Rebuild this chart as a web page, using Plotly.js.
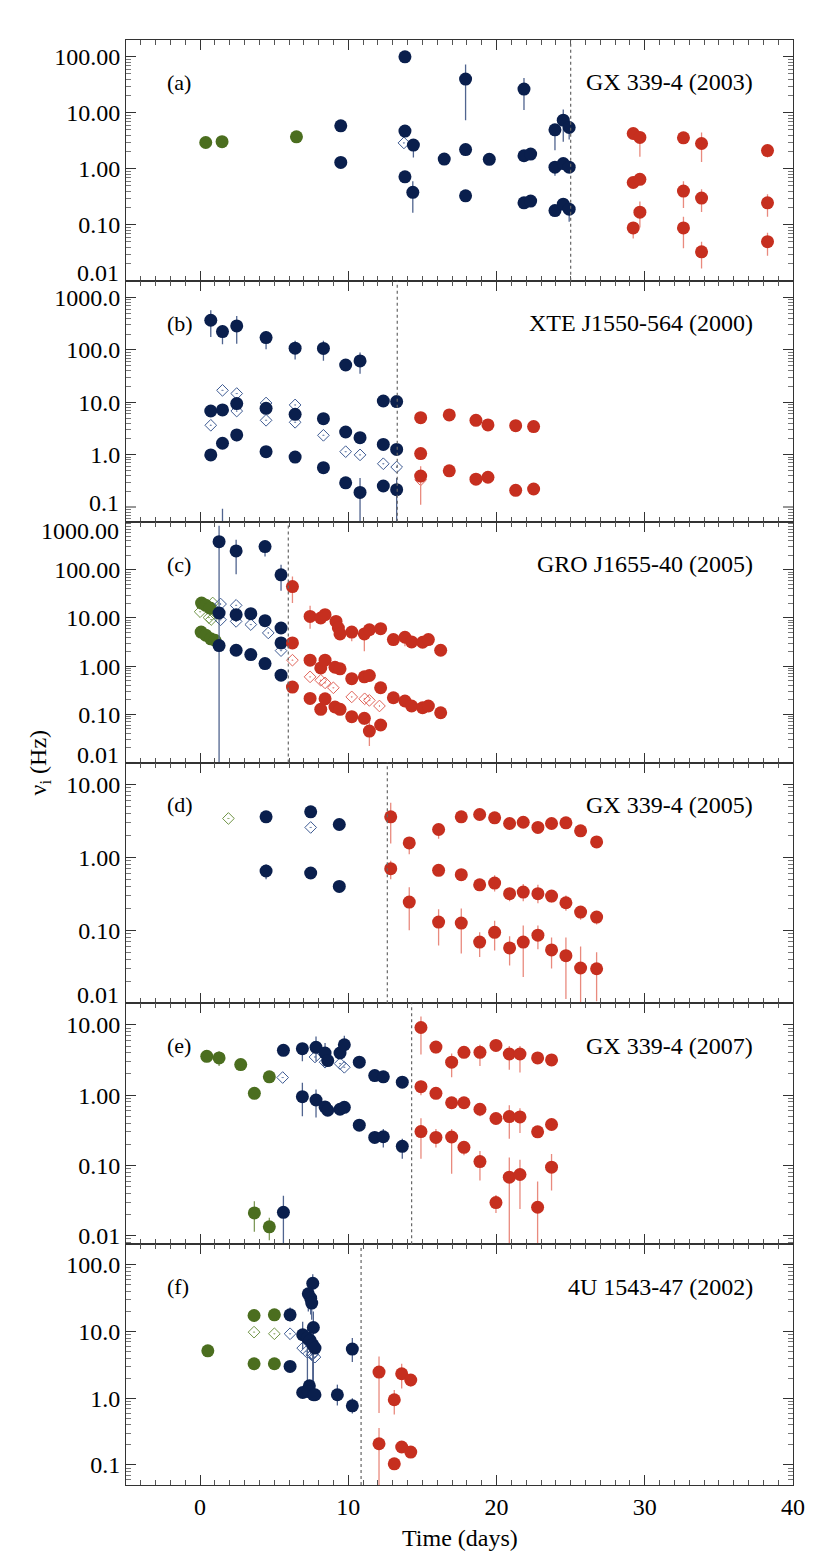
<!DOCTYPE html>
<html>
<head>
<meta charset="utf-8">
<script src="https://cdn.plot.ly/plotly-3.0.1.min.js"></script>
<style>
body{margin:0;background:#fff}
#plot{width:830px;height:1566px}
</style>
</head>
<body>
<div id="plot"></div>
<script>
// rows are [time (days), nu (Hz), lower bound, upper bound]; bounds only where a bar shows

// (a) GX 339-4 (2003)
var aGreen = [[0.38,2.95],[1.48,3.05],[6.50,3.73]]
var aBlue = [
  [9.49,5.86],[9.49,1.30],
  [13.82,100],[13.82,4.71],[13.82,0.72],
  [14.39,2.65,1.6,3.3],[14.35,0.38,0.164,0.6],
  [16.47,1.49],
  [17.91,40,7.4,73],[17.91,2.21],[17.91,0.33],
  [19.51,1.48,1.3,1.6],
  [21.85,26.5,11.2,42],[21.85,1.71],[21.85,0.247],
  [22.3,1.83,1.5,2.2],[22.3,0.265],
  [23.94,4.97,2.15,6.2],[23.94,1.07,0.75,1.3],[23.94,0.18],
  [24.5,7.4,3.03,11.5],[24.5,1.24],[24.5,0.234],
  [24.9,5.47,3.34,6.5],[24.9,1.07],[24.9,0.19,0.113,0.24]
]
var aBlueOpen = [[13.75,2.9]]
var aRed = [
  [29.22,4.27],[29.67,3.63,1.64,4.6],[32.61,3.58,3.0,4.0],[33.83,2.83,1.33,4.46],[38.28,2.12,1.6,2.6],
  [29.22,0.57],[29.67,0.65],[32.61,0.40,0.20,0.6],[33.83,0.30,0.17,0.43],[38.28,0.247,0.139,0.35],
  [29.67,0.168,0.09,0.26],[29.22,0.088,0.057,0.11],[32.61,0.088,0.038,0.14],[33.83,0.033,0.0166,0.05],[38.28,0.05,0.028,0.072]
]

// (b) XTE J1550-564 (2000)
var bBlue = [
  [0.72,369,177,573],[1.51,224,128,300],[2.47,288,132,447],[4.45,172,103,230],[6.41,108,66,150],
  [8.32,107,62,150],[9.82,51.6],[10.79,61.7,35,89],[12.36,10.6],[13.26,10.3],
  [0.72,6.82],[1.51,7.15],[2.47,9.44],[4.45,7.67],[6.41,5.90],[8.32,4.87],[9.82,2.71],[10.79,2.11],[12.36,1.57],[13.26,1.26],
  [0.72,0.99],[1.51,1.65],[2.47,2.38,1.8,2.6],[4.45,1.14],[6.41,0.90],[8.32,0.565],[9.82,0.29],[10.79,0.19,0.04,0.36],[12.36,0.252],[13.26,0.214,0.04,0.36]
]
var bBlueEdge = [[1.51,0.052,0.03,0.093]]
var bBlueOpen = [[0.72,3.64],[1.51,16.9],[2.47,14.7],[2.47,6.8],[4.45,9.7],[4.45,4.53],[6.41,8.9],[6.41,4.15],[8.32,2.34],[9.82,1.14],[10.79,0.99],[12.36,0.67],[13.26,0.58]]
var bRed = [
  [14.88,5.09],[16.81,5.73],[18.61,4.53],[19.42,3.69],[21.29,3.58],[22.50,3.43],
  [14.88,1.05],[14.88,0.39,0.11,0.6],[16.81,0.49],[18.61,0.34],[19.42,0.37],[21.29,0.208],[22.50,0.221]
]
var bRedOpen = [[14.88,0.33]]

// (c) GRO J1655-40 (2005)
var cGreen = [[0.1,20.4],[0.38,18.3],[0.67,16.1],[0.07,5.1],[0.38,4.4],[0.72,3.7],[1.0,3.45]]
var cGreenOpen = [[0.0,13.5],[0.6,10.2],[0.85,20.5],[0.95,12.5],[0.75,9.3]]
var cBlue = [
  [1.28,385,0.005,826],[2.43,247,81,420],[4.38,304,189,340],[5.46,78.8,36.8,127],
  [1.28,12.7],[2.43,11.7],[3.42,12.3],[4.38,8.8],[5.46,6.2],[5.46,3.04],
  [1.28,2.68],[2.43,2.14],[3.42,1.74],[4.38,1.13],[5.46,0.65]
]
var cBlueOpen = [[1.38,19.5],[1.38,9.2],[2.43,18.3],[2.43,8.5],[3.42,7.3],[4.6,4.9],[5.46,2.1]]
var cRed = [
  [6.23,45,20.4,73],[7.42,10.8,6,18],[8.14,10],[8.43,11.7],[9.17,8.5],[9.33,6.2],[9.44,4.67],[10.23,5.1,3.3,6],
  [11.08,4.67,2.04,6],[11.42,5.7],[12.18,6.0],[13.04,3.56,2.8,4.2],[13.82,3.98,2.6,4.5],[14.27,3.18],[15.01,3.14],[15.40,3.56],[16.23,2.14,1.7,2.5],
  [6.23,3.04],[7.42,1.33],[8.14,0.92],[8.43,1.33],[9.10,0.95],[9.44,0.88],[10.23,0.55],[11.08,0.60],[11.42,0.64],
  [12.18,0.356],[13.04,0.221],[13.82,0.189],[14.27,0.149],[15.01,0.137],[15.40,0.149],[16.23,0.108],
  [6.23,0.368],[7.42,0.214],[8.14,0.127],[8.43,0.21],[9.10,0.142],[9.44,0.127],[10.23,0.0895],[11.08,0.0826,0.06,0.11],[11.42,0.045,0.022,0.07],[12.18,0.060]
]
var cRedOpen = [[6.23,1.33],[7.42,0.60],[8.14,0.51],[8.43,0.45],[8.99,0.356],[10.23,0.23],[11.1,0.21],[11.42,0.195],[12.1,0.149]]

// (d) GX 339-4 (2005)
var dGreenOpen = [[1.91,3.41]]
var dBlue = [[4.45,3.59,3.0,4.0],[7.46,4.21,3.7,5.0],[9.39,2.82,2.4,3.2],[4.45,0.651,0.5,0.8],[7.46,0.611],[9.39,0.40,0.34,0.45]]
var dBlueOpen = [[7.46,2.57]]
var dRed = [
  [12.86,3.59,1.55,5.6],[14.11,1.58,1.1,1.9],[16.09,2.41,1.8,2.9],[17.62,3.59,3.0,4.1],[18.86,3.87],[19.87,3.48,3.0,3.9],
  [20.88,2.91],[21.80,3.03],[22.79,2.57],[23.71,2.91],[24.68,2.97],[25.67,2.31,1.9,2.6],[26.75,1.63],
  [12.86,0.70,0.5,0.9],[16.09,0.665],[17.62,0.58,0.48,0.65],[18.86,0.42],[19.87,0.445,0.34,0.57],[20.88,0.318,0.25,0.38],
  [21.80,0.335,0.25,0.43],[22.79,0.318,0.235,0.42],[23.71,0.295,0.24,0.34],[24.68,0.239,0.185,0.3],[25.67,0.178,0.14,0.21],[26.75,0.152,0.12,0.17],
  [14.11,0.244,0.1,0.39],[16.09,0.130,0.062,0.194],[17.62,0.126,0.048,0.2],[18.86,0.069,0.043,0.094],[19.87,0.094,0.053,0.135],
  [20.88,0.0575,0.033,0.083],[21.80,0.069,0.023,0.117],[22.79,0.086,0.055,0.117],[23.71,0.054,0.03,0.08],[24.68,0.045,0.0115,0.08],
  [25.67,0.0305,0.009,0.06],[26.75,0.0298,0.0107,0.05]
]

// (e) GX 339-4 (2007)
var eGreen = [[0.45,3.57],[1.28,3.38,2.6,4.2],[2.74,2.72],[3.66,1.06],[4.67,1.82],[3.66,0.0211,0.0114,0.031],[4.67,0.0134,0.0086,0.018]]
var eBlue = [
  [5.62,4.34],[6.90,4.58,3.03,5.5],[7.82,4.79,3.0,6.8],[8.43,3.98,2.7,5.5],[8.61,3.10],[9.44,3.98],[9.73,5.21,4.0,7.0],
  [10.74,2.94],[11.78,1.90],[12.36,1.82],[13.64,1.53],
  [6.90,0.95,0.5,1.5],[7.82,0.853,0.48,1.2],[8.43,0.68],[8.61,0.61],[9.44,0.63],[9.73,0.67],[10.74,0.374],
  [11.78,0.25],[12.36,0.256,0.18,0.33],[13.64,0.187,0.124,0.24],
  [5.62,0.0215,0.005,0.037]
]
var eBlueOpen = [[5.57,1.78],[7.75,3.49],[8.43,2.94],[9.44,2.81],[9.73,2.49]]
var eRed = [
  [14.90,9.17,3.77,13.1],[15.91,4.83,3.9,5.5],[16.97,2.94,1.8,3.9],[17.80,4.06],[18.88,4.06,2.6,5.2],[19.96,5.1,4.2,6.0],
  [20.86,3.85,2.3,5.0],[21.58,3.85,2.1,5.0],[22.77,3.38,2.8,4.0],[23.71,3.17],
  [14.90,1.32,1.0,1.6],[15.91,1.06],[16.97,0.78],[17.80,0.78],[18.88,0.63,0.5,0.75],[19.96,0.465],[20.86,0.496,0.24,0.72],
  [21.58,0.49,0.29,0.65],[22.77,0.301],[23.71,0.382,0.32,0.45],
  [14.90,0.303,0.124,0.47],[15.91,0.25,0.18,0.33],[16.97,0.254,0.076,0.33],[17.80,0.181,0.14,0.22],[18.88,0.1135,0.061,0.16],
  [19.96,0.0296,0.021,0.038],[20.86,0.068,0.007,0.13],[21.58,0.0743,0.024,0.12],[22.77,0.0254,0.007,0.059],[23.71,0.0944,0.044,0.145]
]

// (f) 4U 1543-47 (2002)
var fGreen = [[0.52,5.15],[3.64,17.4],[5.01,17.8],[3.64,3.29],[5.01,3.29]]
var fGreenOpen = [[3.64,9.8],[5.01,9.27]]
var fBlue = [
  [6.07,17.8,14,23],[6.07,3.0],[6.92,8.95,5.5,14],[7.24,7.98,1.3,11],[7.42,7.4],[7.60,6.34,1.5,9],[7.75,5.65],[7.64,11.5,1.5,20],
  [7.60,53,40,72],[7.30,36.8,20,50],[7.46,31.7,18,45],[7.53,26.7,15,40],
  [6.92,1.22],[7.37,1.54],[7.30,1.26],[7.64,1.13],[7.75,1.13],[9.26,1.13,0.78,1.6],[10.27,5.46,3.5,8],[10.27,0.77,0.59,1.0]
]
var fBlueOpen = [[6.07,9.27],[6.92,5.65],[7.17,5.0],[7.53,4.49],[7.75,4.14],[7.6,4.6]]
var fRed = [[12.07,2.47,0.6,4.24],[13.10,0.95,0.57,1.33],[13.60,2.33,1.4,3.3],[14.21,1.88,1.5,2.3],
  [12.07,0.208,0.05,0.36],[13.10,0.104,0.09,0.12],[13.60,0.186],[14.21,0.156]]

var letters = ["(a)","(b)","(c)","(d)","(e)","(f)"]
var sources = ["GX 339-4 (2003)","XTE J1550-564 (2000)","GRO J1655-40 (2005)","GX 339-4 (2005)","GX 339-4 (2007)","4U 1543-47 (2002)"]
var transitions = [25.0, 13.3, 5.95, 12.63, 14.27, 10.86]
var yRanges = [[-2.0,2.3],[-1.28,3.32],[-2,3],[-2,1.3],[-2.12,1.306],[-1.3,2.31]]
// labels close to a panel edge are drawn apart (see edgeLabels) so they do not run into the next panel
var yTickVals = [
  [0.1,1,10,100],
  [1,10,100,1000],
  [0.1,1,10,100],
  [0.1,1,10],
  [0.01,0.1,1,10],
  [0.1,1,10,100]
]
var yTickText = [
  ["0.10","1.00","10.00","100.00"],
  ["1.0","10.0","100.0","1000.0"],
  ["0.10","1.00","10.00","100.00"],
  ["0.10","1.00","10.00"],
  ["0.01","0.10","1.00","10.00"],
  ["0.1","1.0","10.0","100.0"]
]
// [panel, text, pixel y of label centre]
var edgeLabels = [[1,"0.01",273],[2,"0.1",503],[3,"1000.00",531],[3,"0.01",755],[4,"0.01",995]]
var edgeTicks = [[2,0.1],[3,0.01]]
var xTicks = [0,10,20,30,40]

var NAVY = "#0a1f4d", NAVY_E = "#50648f", NAVY_O = "#3d5a92"
var GREEN = "#4b6e1f", GREEN_E = "#7f9a5a", GREEN_O = "#6f9445"
var RED = "#c62f1f", RED_E = "#e98a7e", RED_O = "#e0645a"

function pts(rows, p, kind, col, ecol, clip){
  var s = p > 1 ? String(p) : ""
  var mk
  if(kind == "open"){
    mk = {symbol:"diamond-open-dot", size:9, color:col, line:{width:1, color:col}}
  } else {
    mk = {symbol:"circle", size:13, color:col, line:{width:0}}
  }
  return {
    type:"scatter", mode:"markers", xaxis:"x"+s, yaxis:"y"+s,
    x: rows.map(function(r){return r[0]}),
    y: rows.map(function(r){return r[1]}),
    marker: mk,
    error_y: {
      type:"data", symmetric:false, visible:true,
      array: rows.map(function(r){return r.length > 3 ? r[3]-r[1] : 0}),
      arrayminus: rows.map(function(r){return r.length > 3 ? r[1]-r[2] : 0}),
      color: ecol, thickness:1.3, width:0
    },
    cliponaxis: clip !== false,
    hoverinfo:"skip"
  }
}

var traces = [
  pts(aGreen,1,"fill",GREEN,GREEN_E), pts(aBlueOpen,1,"open",NAVY_O,NAVY_E), pts(aBlue,1,"fill",NAVY,NAVY_E), pts(aRed,1,"fill",RED,RED_E),
  pts(bBlueOpen,2,"open",NAVY_O,NAVY_E), pts(bBlue,2,"fill",NAVY,NAVY_E), pts(bBlueEdge,2,"fill",NAVY,NAVY_E,false),
  pts(bRedOpen,2,"open",RED_O,RED_E), pts(bRed,2,"fill",RED,RED_E),
  pts(cGreenOpen,3,"open",GREEN_O,GREEN_E), pts(cGreen,3,"fill",GREEN,GREEN_E), pts(cBlueOpen,3,"open",NAVY_O,NAVY_E), pts(cBlue,3,"fill",NAVY,NAVY_E),
  pts(cRedOpen,3,"open",RED_O,RED_E), pts(cRed,3,"fill",RED,RED_E),
  pts(dGreenOpen,4,"open",GREEN_O,GREEN_E), pts(dBlueOpen,4,"open",NAVY_O,NAVY_E), pts(dBlue,4,"fill",NAVY,NAVY_E), pts(dRed,4,"fill",RED,RED_E),
  pts(eGreen,5,"fill",GREEN,GREEN_E), pts(eBlueOpen,5,"open",NAVY_O,NAVY_E), pts(eBlue,5,"fill",NAVY,NAVY_E), pts(eRed,5,"fill",RED,RED_E),
  pts(fGreenOpen,6,"open",GREEN_O,GREEN_E), pts(fGreen,6,"fill",GREEN,GREEN_E), pts(fBlueOpen,6,"open",NAVY_O,NAVY_E), pts(fBlue,6,"fill",NAVY,NAVY_E),
  pts(fRed,6,"fill",RED,RED_E)
]

var FONT = '"Liberation Serif", "Times New Roman", serif'
var TOP = 40, PLOT_H = 1445
var layout = {
  width:830, height:1566,
  margin:{l:126, r:37, t:TOP, b:81},
  paper_bgcolor:"#fff", plot_bgcolor:"#fff",
  showlegend:false,
  font:{family:FONT, size:24, color:"#000"},
  shapes:[], annotations:[]
}

for(var p=1;p<=6;p++){
  var s = p > 1 ? String(p) : ""
  // minor ticks 2..9 per decade, plus the major tick whose label is drawn as an annotation
  var minorY = []
  for(var k=-3;k<=3;k++){
    for(var m=2;m<=9;m++) minorY.push(m*Math.pow(10,k))
  }
  layout["xaxis"+s] = {
    domain:[0,1], range:[-5,40], anchor:"y"+s,
    showline:true, mirror:"allticks", linecolor:"#333", linewidth:1,
    ticks:"inside", ticklen:10, tickwidth:1, tickcolor:"#333",
    tickvals:xTicks, ticktext:xTicks.map(String),
    showticklabels: p == 6, ticklabelstandoff:0,
    minor:{tick0:0, dtick:1, ticks:"inside", ticklen:5, tickcolor:"#555", showgrid:false},
    showgrid:false, zeroline:false, tickfont:{size:24}
  }
  layout["yaxis"+s] = {
    domain:[(6-p)/6,(7-p)/6], type:"log", range:yRanges[p-1], anchor:"x"+s,
    showline:true, mirror:"allticks", linecolor:"#333", linewidth:1,
    ticks:"inside", ticklen:10, tickwidth:1, tickcolor:"#333",
    tickvals:yTickVals[p-1], ticktext:yTickText[p-1],
    minor:{tickvals:minorY, ticks:"inside", ticklen:5, tickcolor:"#777", showgrid:false},
    showgrid:false, zeroline:false, tickfont:{size:24}
  }
  layout.shapes.push({
    type:"line", xref:"x"+s, yref:"y"+s+" domain", x0:transitions[p-1], x1:transitions[p-1], y0:0, y1:1,
    line:{color:"#666", width:1.2, dash:"dot"}
  })
  layout.annotations.push({
    text:letters[p-1], xref:"paper", yref:"y"+s+" domain", x:0.058, y:0.824,
    xanchor:"left", yanchor:"middle", showarrow:false, font:{size:22}
  })
  layout.annotations.push({
    text:sources[p-1], xref:"paper", yref:"y"+s+" domain", x:0.943, y:0.824,
    xanchor:"right", yanchor:"middle", showarrow:false, font:{size:24}
  })
}

// long tick marks for the edge values that lost their axis label
edgeTicks.forEach(function(t){
  var s = t[0] > 1 ? String(t[0]) : ""
  ;[[0,10],[1,-10]].forEach(function(side){
    layout.shapes.push({
      type:"line", xref:"x"+s+" domain", yref:"y"+s, xsizemode:"pixel", xanchor:side[0],
      x0:0, x1:side[1], y0:t[1], y1:t[1], line:{color:"#333", width:1}
    })
  })
})

edgeLabels.forEach(function(e){
  layout.annotations.push({
    text:e[1], xref:"paper", yref:"paper", x:-0.008, y:1-(e[2]-TOP)/PLOT_H,
    xanchor:"right", yanchor:"middle", showarrow:false, font:{size:24}
  })
})

layout.annotations.push({
  text:"ν<sub>i</sub> (Hz)", xref:"paper", yref:"paper", x:-0.129, y:0.5,
  xanchor:"center", yanchor:"middle", textangle:-90, showarrow:false, font:{size:24}
})
layout.annotations.push({
  text:"Time (days)", xref:"paper", yref:"paper", x:0.5, y:-0.0365,
  xanchor:"center", yanchor:"middle", showarrow:false, font:{size:24}
})

Plotly.newPlot("plot", traces, layout, {staticPlot:true})
</script>
</body>
</html>
